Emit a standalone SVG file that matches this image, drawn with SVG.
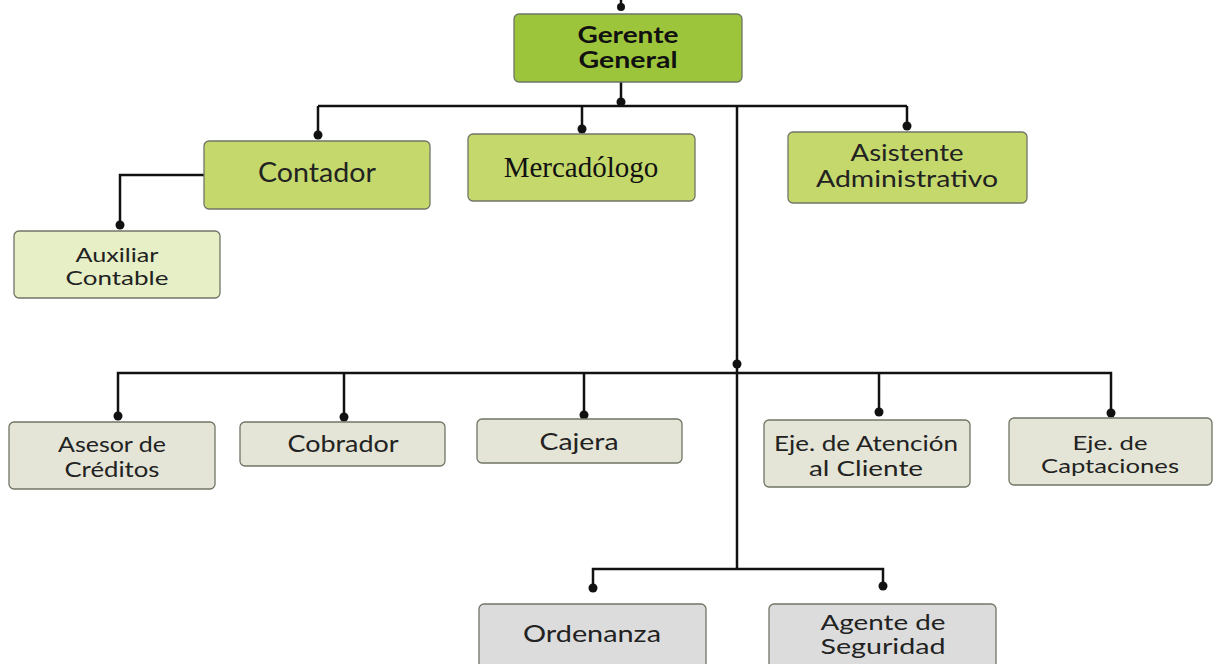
<svg xmlns="http://www.w3.org/2000/svg" width="1213" height="664" viewBox="0 0 1213 664">
<style>
.box{stroke:#707565;stroke-width:1.3}
.g1{fill:#9dc53b}
.g2{fill:#c5d86c}
.g3{fill:#e6efc6}
.g4{fill:#e4e5d6}
.g5{fill:#dcdcdc}
.t{font-family:Lato,"Liberation Sans",sans-serif;fill:#222;text-anchor:middle}
.tb{font-family:Lato,"Liberation Sans",sans-serif;font-weight:bold;fill:#111;text-anchor:middle;font-size:22px}
.ts{font-family:"Liberation Serif",serif;fill:#111;text-anchor:middle;font-size:29px}
.ln{fill:none;stroke:#111;stroke-width:2.5}
.dot{fill:#111}
</style>
<g id="connectors">
<path class="ln" d="M621 0V8"/>
<circle class="dot" cx="621" cy="7" r="4"/>
<path class="ln" d="M621 82V106M318 106H907M318 106V135M582 106V129M907 106V126M737 106V569"/>
<circle class="dot" cx="621" cy="102" r="4.5"/>
<circle class="dot" cx="318" cy="135" r="4.5"/>
<circle class="dot" cx="582" cy="129" r="4.5"/>
<circle class="dot" cx="907" cy="126" r="4.5"/>
<path class="ln" d="M204 175H120V225"/>
<circle class="dot" cx="120" cy="225" r="4.5"/>
<path class="ln" d="M118 416V373H1111V413M344 373V417M584 373V415M879 373V412"/>
<circle class="dot" cx="737" cy="364" r="4.5"/>
<circle class="dot" cx="118" cy="416" r="4.5"/>
<circle class="dot" cx="344" cy="417" r="4.5"/>
<circle class="dot" cx="584" cy="415" r="4.5"/>
<circle class="dot" cx="879" cy="412" r="4.5"/>
<circle class="dot" cx="1111" cy="413" r="4.5"/>
<path class="ln" d="M593 588V569H883V586"/>
<circle class="dot" cx="593" cy="588" r="4.5"/>
<circle class="dot" cx="883" cy="586" r="4.5"/>
</g>
<g id="gerente">
<rect class="box g1" x="514" y="14" width="228" height="68" rx="5"/>
<text class="tb" x="628" y="43" textLength="101" lengthAdjust="spacingAndGlyphs">Gerente</text>
<text class="tb" x="628" y="68" textLength="99" lengthAdjust="spacingAndGlyphs">General</text>
</g>
<g id="contador">
<rect class="box g2" x="204" y="141" width="226" height="68" rx="5"/>
<text class="t" x="317" y="182" font-size="26" textLength="118" lengthAdjust="spacingAndGlyphs">Contador</text>
</g>
<g id="mercadologo">
<rect class="box g2" x="468" y="134" width="227" height="67" rx="5"/>
<text class="ts" x="581" y="177">Mercadólogo</text>
</g>
<g id="asistente">
<rect class="box g2" x="788" y="132" width="239" height="71" rx="5"/>
<text class="t" x="907" y="161" font-size="23" textLength="113" lengthAdjust="spacingAndGlyphs">Asistente</text>
<text class="t" x="907" y="187" font-size="23" textLength="182" lengthAdjust="spacingAndGlyphs">Administrativo</text>
</g>
<g id="auxiliar">
<rect class="box g3" x="14" y="231" width="206" height="67" rx="5"/>
<text class="t" x="117" y="262" font-size="20" textLength="83" lengthAdjust="spacingAndGlyphs">Auxiliar</text>
<text class="t" x="117" y="285" font-size="20" textLength="103" lengthAdjust="spacingAndGlyphs">Contable</text>
</g>
<g id="asesor">
<rect class="box g4" x="9" y="422" width="206" height="67" rx="5"/>
<text class="t" x="112" y="452" font-size="21" textLength="108" lengthAdjust="spacingAndGlyphs">Asesor de</text>
<text class="t" x="112" y="477" font-size="21" textLength="95" lengthAdjust="spacingAndGlyphs">Créditos</text>
</g>
<g id="cobrador">
<rect class="box g4" x="240" y="422" width="205" height="44" rx="5"/>
<text class="t" x="343" y="452" font-size="23" textLength="111" lengthAdjust="spacingAndGlyphs">Cobrador</text>
</g>
<g id="cajera">
<rect class="box g4" x="477" y="419" width="205" height="44" rx="5"/>
<text class="t" x="579" y="450" font-size="23" textLength="79" lengthAdjust="spacingAndGlyphs">Cajera</text>
</g>
<g id="atencion">
<rect class="box g4" x="764" y="420" width="206" height="67" rx="5"/>
<text class="t" x="866" y="451" font-size="21" textLength="184" lengthAdjust="spacingAndGlyphs">Eje. de Atención</text>
<text class="t" x="866" y="476" font-size="21" textLength="114" lengthAdjust="spacingAndGlyphs">al Cliente</text>
</g>
<g id="captaciones">
<rect class="box g4" x="1009" y="418" width="203" height="67" rx="5"/>
<text class="t" x="1110" y="450" font-size="20" textLength="75" lengthAdjust="spacingAndGlyphs">Eje. de</text>
<text class="t" x="1110" y="473" font-size="20" textLength="138" lengthAdjust="spacingAndGlyphs">Captaciones</text>
</g>
<g id="ordenanza">
<rect class="box g5" x="479" y="604" width="227" height="70" rx="5"/>
<text class="t" x="592" y="642" font-size="23" textLength="138" lengthAdjust="spacingAndGlyphs">Ordenanza</text>
</g>
<g id="seguridad">
<rect class="box g5" x="769" y="604" width="227" height="70" rx="5"/>
<text class="t" x="883" y="630" font-size="21" textLength="125" lengthAdjust="spacingAndGlyphs">Agente de</text>
<text class="t" x="883" y="654" font-size="21" textLength="125" lengthAdjust="spacingAndGlyphs">Seguridad</text>
</g>
</svg>
